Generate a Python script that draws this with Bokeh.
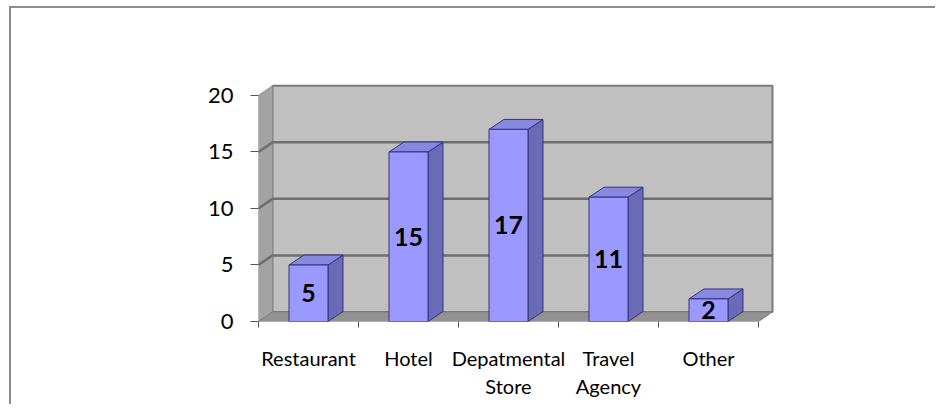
from bokeh.plotting import figure
from bokeh.models import Range1d, FixedTicker, ColumnDataSource
from bokeh.core.properties import value
from bokeh.embed import file_html
from bokeh.resources import INLINE

# ---- data ----
categories = ["Restaurant", "Hotel", "Depatmental\nStore", "Travel\nAgency", "Other"]
counts = [5, 15, 17, 11, 2]
y_ticks = [0, 5, 10, 15, 20]

# ---- geometry / style constants ----
n = len(categories)
y_top = y_ticks[-1]
wall_dx, wall_dy = 0.14, 0.85      # depth offset of walls (data units)
bar_dx, bar_dy = 0.15, 0.88        # depth offset of bars
bar_w = 0.39

p = figure(width=935, height=404, output_backend="svg", toolbar_location=None,
           x_range=Range1d(0, 5.2), y_range=Range1d(0, 21.5),
           min_border_left=258, min_border_top=78, min_border_bottom=83, min_border_right=157)
p.styles = {"background": "linear-gradient(#8c8c8c, #8c8c8c) 9px 6px / 2px 100% no-repeat, "
                          "linear-gradient(#8c8c8c, #8c8c8c) 9px 6px / 100% 2px no-repeat, #ffffff"}
p.outline_line_color = None
p.background_fill_color = None
p.border_fill_color = None
p.xgrid.visible = False
p.ygrid.visible = False

# back wall
p.patch([wall_dx, n + wall_dx, n + wall_dx, wall_dx],
        [wall_dy, wall_dy, y_top + wall_dy, y_top + wall_dy],
        fill_color="#c0c0c0", line_color="#7a7a7a", line_width=2)
# side wall
p.patch([0, wall_dx, wall_dx, 0], [0, wall_dy, y_top + wall_dy, y_top],
        fill_color="#a3a3a3", line_color="#8a8a8a", line_width=1)
# floor
p.patch([0, n, n + wall_dx, wall_dx], [0, 0, wall_dy, wall_dy],
        fill_color="#929292", line_color="#7a7a7a", line_width=1)
# gridlines on walls
gx, gy = [], []
for v in y_ticks[1:-1]:
    gx.append([0, wall_dx, n + wall_dx])
    gy.append([v, v + wall_dy, v + wall_dy])
p.multi_line(gx, gy, line_color="#6e6e6e", line_width=2.5)

# bars
centers = [i + 0.5 for i in range(n)]
side_x, side_y, top_x, top_y = [], [], [], []
for c, v in zip(centers, counts):
    x0, x1 = c - bar_w / 2, c + bar_w / 2
    side_x.append([x1, x1 + bar_dx, x1 + bar_dx, x1])
    side_y.append([0, bar_dy, v + bar_dy, v])
    top_x.append([x0, x1, x1 + bar_dx, x0 + bar_dx])
    top_y.append([v, v, v + bar_dy, v + bar_dy])
p.patches(side_x, side_y, fill_color="#6a6ab6", line_color="#34347f", line_width=1)
p.patches(top_x, top_y, fill_color="#8888e0", line_color="#34347f", line_width=1)
p.vbar(x=centers, top=counts, width=bar_w, bottom=0,
       fill_color="#9999ff", line_color="#34347f", line_width=1)

src = ColumnDataSource(dict(x=centers, y=[v / 2 for v in counts], t=[str(v) for v in counts]))
p.text(x="x", y="y", text="t", source=src, text_font=value("Lato"), text_font_style="bold",
       text_font_size="25px", text_align="center", text_baseline="middle", text_color="black")

# y axis
ya = p.yaxis[0]
ya.ticker = FixedTicker(ticks=y_ticks)
ya.axis_line_color = None
ya.major_tick_out = 8
ya.major_tick_in = 0
ya.major_tick_line_color = "#555555"
ya.minor_tick_line_color = None
ya.major_label_standoff = 17
ya.major_label_text_font = "Lato"
ya.major_label_text_font_size = "22px"
ya.major_label_text_color = "black"

# x axis
xa = p.xaxis[0]
xa.ticker = FixedTicker(ticks=centers, minor_ticks=list(range(n + 1)))
xa.major_label_overrides = {c: lab for c, lab in zip(centers, categories)}
xa.axis_line_color = None
xa.major_tick_line_color = None
xa.minor_tick_line_color = "#555555"
xa.minor_tick_out = 6
xa.minor_tick_in = 0
xa.major_label_standoff = 18
xa.major_label_text_font = "Lato"
xa.major_label_text_font_size = "20px"
xa.major_label_text_color = "black"
xa.major_label_text_line_height = 1.2

open("out.html", "w").write(file_html(p, INLINE))
